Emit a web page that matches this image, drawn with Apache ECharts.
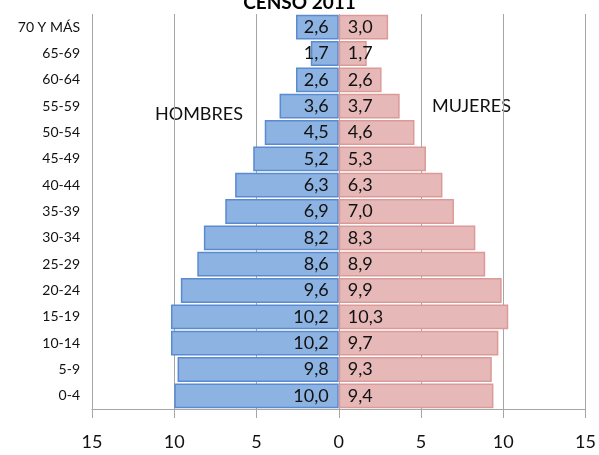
<!DOCTYPE html>
<html>
<head>
<meta charset="utf-8">
<script src="https://cdn.jsdelivr.net/npm/echarts@6/dist/echarts.min.js"></script>
<style>
  html, body { margin: 0; padding: 0; background: #fff; }
  #chart { width: 599px; height: 455px; }
</style>
</head>
<body>
<div id="chart"></div>
<script>
// grupos de edad, de abajo hacia arriba
var grupos = ['0-4', '5-9', '10-14', '15-19', '20-24', '25-29', '30-34', '35-39',
  '40-44', '45-49', '50-54', '55-59', '60-64', '65-69', '70 Y MÁS'];
var hombres = [10.0, 9.8, 10.2, 10.2, 9.6, 8.6, 8.2, 6.9, 6.3, 5.2, 4.5, 3.6, 2.6, 1.7, 2.6];
var mujeres = [9.4, 9.3, 9.7, 10.3, 9.9, 8.9, 8.3, 7.0, 6.3, 5.3, 4.6, 3.7, 2.6, 1.7, 3.0];

var fuente = 'Lato, sans-serif';

function coma(v) {
  return Math.abs(v).toFixed(1).replace('.', ',');
}

var chart = echarts.init(document.getElementById('chart'));
chart.setOption({
  animation: false,
  title: {
    text: 'CENSO 2011',
    left: 'center',
    top: -12,
    textStyle: { fontSize: 19, fontWeight: 'bold', color: '#000', fontFamily: fuente }
  },
  grid: { left: 92, right: 8, top: 14, bottom: 46 },
  xAxis: {
    type: 'value',
    min: -15,
    max: 15,
    interval: 5,
    axisLine: { show: true, onZero: false, lineStyle: { color: '#A6A6A6' } },
    axisTick: { show: true, length: 9, lineStyle: { color: '#A6A6A6' } },
    splitLine: { show: true, lineStyle: { color: '#A6A6A6' } },
    axisLabel: {
      margin: 24,
      fontSize: 18,
      color: '#111',
      fontFamily: fuente,
      formatter: function (v) { return Math.abs(v); }
    }
  },
  yAxis: {
    type: 'category',
    data: grupos,
    axisLine: { show: false },
    axisTick: { show: false },
    axisLabel: { fontSize: 14, color: '#111', margin: 12, fontFamily: fuente }
  },
  series: [
    {
      name: 'Hombres',
      type: 'bar',
      stack: 'total',
      barCategoryGap: '6%',
      data: hombres.map(function (v) { return -v; }),
      itemStyle: { color: '#8DB3E2', borderColor: '#5A8AD0', borderWidth: 1.5 },
      label: {
        show: true,
        position: 'insideRight',
        distance: 10,
        fontSize: 18,
        color: '#111',
        fontFamily: fuente,
        formatter: function (p) { return coma(p.value); }
      }
    },
    {
      name: 'Mujeres',
      type: 'bar',
      stack: 'total',
      barCategoryGap: '6%',
      data: mujeres,
      itemStyle: { color: '#E6B9B8', borderColor: '#DB9A98', borderWidth: 1.5 },
      label: {
        show: true,
        position: 'insideLeft',
        distance: 9,
        fontSize: 18,
        color: '#111',
        fontFamily: fuente,
        formatter: function (p) { return coma(p.value); }
      }
    }
  ],
  graphic: [
    {
      type: 'text', left: 155, top: 105,
      style: { text: 'HOMBRES', fontSize: 18, fill: '#111', fontFamily: fuente }
    },
    {
      type: 'text', left: 432, top: 97,
      style: { text: 'MUJERES', fontSize: 18, fill: '#111', fontFamily: fuente }
    }
  ]
});
</script>
</body>
</html>
